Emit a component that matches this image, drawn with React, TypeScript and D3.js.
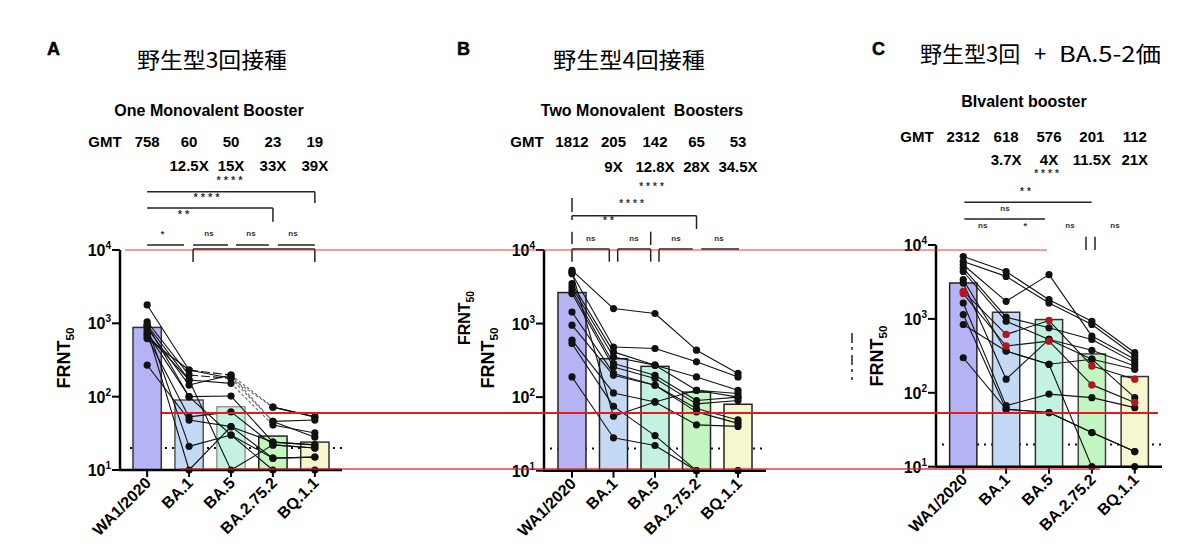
import * as d3 from "d3";

const categories = ["WA1/2020", "BA.1", "BA.5", "BA.2.75.2", "BQ.1.1"];
const barColors = ["#b4b4f4", "#c4d9f4", "#c4f2e0", "#c2f5c0", "#f7f7cf"];

// panel A: one monovalent booster
const titleA = ["野生型3回接種"];
const subtitleA = "One Monovalent Booster";
const gmtA = ["758", "60", "50", "23", "19"];
const foldA = ["", "12.5X", "15X", "33X", "39X"];
const barsA = [880, 90, 73, 29, 24];
const donorsA = [
  [1780, 231, 197, 72, 53],
  [1050, 197, 178, 46, 48],
  [950, 169, 152, 41, 32],
  [863, 144, 197, 46, 28],
  [738, 100, 102, 24, 22],
  [658, 53, 62, 22, 20],
  [270, 48, 39, 14.5, 15],
  [900, 21, 30, 10, 10],
  [800, 10, 39, 24, 22],
  [700, 169, 10, 22, 20],
  [620, 231, 178, 72, 53],
  [950, 100, 30, 14.5, 15],
];

// panel B: two monovalent boosters
const titleB = ["野生型4回接種"];
const subtitleB = "Two Monovalent  Boosters";
const gmtB = ["1812", "205", "142", "65", "53"];
const foldB = ["", "9X", "12.8X", "28X", "34.5X"];
const barsB = [2640, 333, 262, 117, 80];
const donorsB = [
  [5280, 1600, 1370, 435, 210],
  [4770, 480, 458, 302, 188],
  [3480, 412, 272, 188, 124],
  [3140, 352, 272, 124, 112],
  [2830, 286, 198, 90, 100],
  [2560, 257, 179, 81, 90],
  [1435, 210, 145, 70, 49],
  [950, 198, 145, 63, 44],
  [595, 114, 86, 42, 40],
  [535, 75, 30, 10, 10],
  [188, 28, 22, 10, 10],
  [5000, 55, 86, 124, 100],
];

// panel C: bivalent booster
const titleC = ["野生型3回", "+", "BA.5-2価"];
const subtitleC = "BIvalent booster";
const gmtC = ["2312", "618", "576", "201", "112"];
const foldC = ["", "3.7X", "4X", "11.5X", "21X"];
const barsC = [3060, 1230, 980, 336, 166];
const donorsC = [
  [6980, 4380, 1820, 930, 349],
  [5980, 3760, 1640, 840, 315],
  [5400, 1730, 3970, 585, 284],
  [4860, 1054, 757, 527, 256],
  [4380, 930, 527, 376, 231],
  [3390, 367, 243, 285, 208],
  [3055, 153, 527, 285, 86],
  [1640, 67, 96, 86, 63],
  [1145, 60, 54, 29, 16],
  [840, 367, 243, 10, 10],
  [298, 60, 54, 29, 16],
];
const redDonorsC = [
  [2360, 617, 950, 231, 153],
  [2200, 430, 500, 128, 74],
];

const yTicks = [10, 100, 1000, 10000];
const detectionLimit = 20;
const overlayLevels = [10000, 60, 10.3];

const latin = "'Liberation Sans', Arial, sans-serif";
const cjk = "'Noto Sans CJK JP', 'Noto Sans', sans-serif";

type Ann =
  | { t: "line"; x1: number; y1: number; x2: number; y2: number }
  | { t: "text"; x: number; y: number; s: string; size: number };

interface PanelCfg {
  letter: string;
  letterX: number;
  title: string[];
  titleXs: number[];
  titleY: number;
  titleLens: number[];
  subtitle: string;
  subX: number;
  subY: number;
  gmtLabelX: number;
  gmtY: number;
  foldY: number;
  gmt: string[];
  fold: string[];
  bars: number[];
  donors: number[][];
  redDonors: number[][];
  dashed: [number, number][];
  axisX: number;
  axisEnd: number;
  yTop: number;
  yBottom: number;
  padInner: number;
  padOuter: number;
  lodFrom: number;
  lodTo: number;
  barStroke: string[];
  annotations: (cx: (i: number) => number) => Ann[];
  yLabels: { x: number; y: number; size: number }[];
}

const L = (x1: number, y1: number, x2: number, y2: number): Ann => ({ t: "line", x1, y1, x2, y2 });
const T = (x: number, y: number, s: string, size = 11): Ann => ({ t: "text", x, y, s, size });

const panels: PanelCfg[] = [
  {
    letter: "A", letterX: 47, title: titleA, titleXs: [137], titleY: 68, titleLens: [150],
    subtitle: subtitleA, subX: 209, subY: 116, gmtLabelX: 105, gmtY: 147, foldY: 171,
    gmt: gmtA, fold: foldA, bars: barsA, donors: donorsA, redDonors: [],
    dashed: [[0, 1], [1, 1], [0, 2], [1, 2], [2, 2], [3, 2], [10, 2]],
    axisX: 120, axisEnd: 342, yTop: 250, yBottom: 470, padInner: 0.325, padOuter: 0.31,
    lodFrom: 130, lodTo: 342, barStroke: ["#333", "#555", "#999", "#222", "#333"],
    annotations: (cx) => [
      T(cx(2), 184, "****"),
      L(cx(0), 191.7, cx(4), 191.7), L(cx(4), 191.7, cx(4), 203),
      T(208, 201, "****"),
      L(cx(0), 208, cx(3), 208), L(cx(3), 208, cx(3), 221.7),
      T(185, 218, "**"),
      T(164, 237, "*", 9), T(209, 236, "ns", 8), T(251, 236, "ns", 8), T(293, 236, "ns", 8),
      L(cx(0), 245, cx(1) - 5, 245), L(cx(1) + 4, 245, cx(2) - 3, 245),
      L(cx(2) + 5, 245, cx(3) - 4, 245), L(cx(3) + 5, 245, cx(4), 245),
      L(cx(1) + 4, 249, cx(4), 249), L(cx(1) + 4, 249, cx(1) + 4, 262), L(cx(4), 249, cx(4), 262),
    ],
    yLabels: [{ x: 70, y: 358, size: 18 }],
  },
  {
    letter: "B", letterX: 457, title: titleB, titleXs: [553], titleY: 68, titleLens: [152],
    subtitle: subtitleB, subX: 642, subY: 116, gmtLabelX: 527, gmtY: 147, foldY: 172,
    gmt: gmtB, fold: foldB, bars: barsB, donors: donorsB, redDonors: [], dashed: [],
    axisX: 544, axisEnd: 766, yTop: 250, yBottom: 470.7, padInner: 0.325, padOuter: 0.337,
    lodFrom: 550, lodTo: 766, barStroke: ["#222", "#222", "#222", "#222", "#222"],
    annotations: (cx) => [
      T(653, 190, "****", 10),
      L(cx(0), 198, cx(0), 212),
      T(633, 207, "****", 10),
      L(cx(0), 215.7, cx(3), 215.7), L(cx(0), 215.7, cx(0), 220), L(cx(3), 215.7, cx(3), 229),
      T(610, 224, "**", 10),
      L(cx(0), 231.7, cx(0), 244), L(650.7, 231.7, 650.7, 245),
      T(590.7, 241, "ns", 8), T(634, 241, "ns", 8), T(676, 241, "ns", 8), T(719, 241, "ns", 8),
      L(cx(0), 249, 609.3, 249), L(617.7, 249, 650.7, 249), L(659, 249, 692.7, 249), L(701.3, 249, 739, 249),
      L(cx(0), 249, cx(0), 261.7), L(609.3, 249, 609.3, 261.7), L(617.7, 249, 617.7, 261.7),
      L(650.7, 249, 650.7, 261.7), L(659, 249, 659, 261.7),
    ],
    yLabels: [{ x: 470, y: 318, size: 16 }, { x: 494, y: 358, size: 18 }],
  },
  {
    letter: "C", letterX: 872, title: titleC, titleXs: [920, 1034, 1059], titleY: 62, titleLens: [0, 0, 102],
    subtitle: subtitleC, subX: 1024, subY: 107, gmtLabelX: 917, gmtY: 142, foldY: 165,
    gmt: gmtC, fold: foldC, bars: barsC, donors: donorsC, redDonors: redDonorsC, dashed: [],
    axisX: 936, axisEnd: 1162, yTop: 245, yBottom: 466.7, padInner: 0.365, padOuter: 0.318,
    lodFrom: 942, lodTo: 1162, barStroke: ["#222", "#333", "#333", "#444", "#333"],
    annotations: (cx) => [
      T(1048, 177, "****", 10),
      T(1027, 195, "**", 10),
      L(964.3, 202.3, 1091.7, 202.3),
      T(1005, 210.5, "ns", 8),
      L(964.3, 219, 1045, 219),
      T(982.7, 228, "ns", 8), T(1026.7, 228.5, "*", 9), T(1070, 228, "ns", 8), T(1115, 228, "ns", 8),
      L(1086, 236.7, 1086, 250), L(1095, 236.7, 1095, 250),
    ],
    yLabels: [{ x: 883, y: 356, size: 18 }],
  },
];

function Panel({ cfg }: { cfg: PanelCfg }) {
  const x = d3.scaleBand<string>()
    .domain(categories)
    .range([cfg.axisX, cfg.axisEnd])
    .paddingInner(cfg.padInner)
    .paddingOuter(cfg.padOuter);
  const y = d3.scaleLog().domain([10, 10000]).range([cfg.yBottom, cfg.yTop]);
  const cx = (i: number) => (x(categories[i]) ?? 0) + x.bandwidth() / 2;
  const yv = (v: number) => y(Math.max(10, v));
  const isDashed = (d: number, s: number) => cfg.dashed.some(([a, b]) => a === d && b === s);
  const allDonors = [...cfg.donors, ...cfg.redDonors];
  const heavy = { fontFamily: latin, fontWeight: "bold" as const };

  return (
    <g>
      <text x={cfg.letterX} y={55} {...heavy} fontSize={18} stroke="#000" strokeWidth={0.5}>{cfg.letter}</text>
      {cfg.title.map((part, i) => (
        <text key={"ti" + i} x={cfg.titleXs[i]} y={cfg.titleY} fontFamily={cjk} fontSize={22}
          textLength={cfg.titleLens[i] || undefined} lengthAdjust="spacingAndGlyphs">{part}</text>
      ))}
      <text x={cfg.subX} y={cfg.subY} {...heavy} fontSize={16} textAnchor="middle"
        style={{ whiteSpace: "pre" }}>{cfg.subtitle}</text>
      <text x={cfg.gmtLabelX} y={cfg.gmtY} {...heavy} fontSize={15} textAnchor="middle">GMT</text>
      {cfg.gmt.map((g, i) => (
        <text key={"g" + i} x={cx(i)} y={cfg.gmtY} {...heavy} fontSize={15} textAnchor="middle">{g}</text>
      ))}
      {cfg.fold.map((f, i) => (
        <text key={"f" + i} x={cx(i)} y={cfg.foldY} {...heavy} fontSize={15} textAnchor="middle">{f}</text>
      ))}

      {cfg.annotations(cx).map((a, i) =>
        a.t === "line" ? (
          <line key={"a" + i} x1={a.x1} y1={a.y1} x2={a.x2} y2={a.y2} stroke="#222" strokeWidth={1.5} />
        ) : (
          <text key={"a" + i} x={a.x} y={a.y} {...heavy} fontSize={a.size}
            textAnchor="middle" fill="#333" letterSpacing={a.s.startsWith("*") ? 3 : 0}>{a.s}</text>
        )
      )}

      {/* detection limit */}
      <line x1={cfg.lodFrom} x2={cfg.lodTo} y1={y(detectionLimit)} y2={y(detectionLimit)}
        stroke="#111" strokeWidth={2} strokeDasharray="2 5" />

      {cfg.bars.map((v, i) => (
        <rect key={"b" + i} x={x(categories[i])} y={y(v)} width={x.bandwidth()} height={y(10) - y(v)}
          fill={barColors[i]} stroke={cfg.barStroke[i]} strokeWidth={1.5} />
      ))}

      {allDonors.map((d, di) =>
        d.slice(0, -1).map((v, s) => (
          <line key={"l" + di + "-" + s} x1={cx(s)} y1={yv(v)} x2={cx(s + 1)} y2={yv(d[s + 1])}
            stroke={isDashed(di, s) && s === 2 ? "#666" : "#111"} strokeWidth={1.1}
            strokeDasharray={isDashed(di, s) ? (s === 2 ? "3 2" : "9 3") : undefined} />
        ))
      )}
      {cfg.donors.map((d, di) =>
        d.map((v, i) => <circle key={"p" + di + "-" + i} cx={cx(i)} cy={yv(v)} r={3.6} fill="#111" />)
      )}
      {cfg.redDonors.map((d, di) =>
        d.map((v, i) => <circle key={"r" + di + "-" + i} cx={cx(i)} cy={yv(v)} r={3.7} fill="#b3171d" />)
      )}

      {/* axes */}
      <line x1={cfg.axisX} x2={cfg.axisX} y1={y(10000)} y2={y(10) + 1} stroke="#000" strokeWidth={2.5} />
      <line x1={cfg.axisX - 1} x2={cfg.axisEnd} y1={y(10)} y2={y(10)} stroke="#000" strokeWidth={2.5} />
      {yTicks.map((t) => (
        <g key={"t" + t}>
          <line x1={cfg.axisX - 8} x2={cfg.axisX} y1={y(t)} y2={y(t)} stroke="#000" strokeWidth={2} />
          <text x={cfg.axisX - 9} y={y(t) + 6} {...heavy} fontSize={16} textAnchor="end">
            10<tspan dy={-7} fontSize={10}>{Math.round(Math.log10(t))}</tspan>
          </text>
        </g>
      ))}
      {categories.map((c, i) => (
        <g key={"x" + c}>
          <line x1={cx(i)} x2={cx(i)} y1={y(10)} y2={y(10) + 7} stroke="#000" strokeWidth={2} />
          <text transform={`translate(${cx(i) + 5},${y(10) + 14}) rotate(-45)`} {...heavy}
            fontSize={16} textAnchor="end">{c}</text>
        </g>
      ))}

      {cfg.yLabels.map((l, i) => (
        <text key={"yl" + i} transform={`translate(${l.x},${l.y}) rotate(-90)`} {...heavy}
          fontSize={l.size} textAnchor="middle">
          FRNT<tspan dy={4} fontSize={l.size * 0.65}>50</tspan>
        </text>
      ))}
    </g>
  );
}

export default function App() {
  const yA = d3.scaleLog().domain([10, 10000]).range([470, 250]);
  const overlaySpans = [[125, 1047], [160, 1158], [180, 1100]];
  const overlayWidths = [1.2, 2, 1.5];
  return (
    <svg width={1200} height={553} style={{ position: "absolute", left: 0, top: 0, background: "#fff" }}>
      <rect width={1200} height={553} fill="#fff" />
      {panels.map((p) => <Panel key={p.letter} cfg={p} />)}
      <line x1={852} x2={852} y1={333} y2={380} stroke="#222" strokeWidth={1.5} strokeDasharray="10 4 3 5" />
      {overlayLevels.map((v, i) => (
        <line key={"o" + i} x1={overlaySpans[i][0]} x2={overlaySpans[i][1]} y1={yA(v)} y2={yA(v)}
          stroke="#e31b1b" strokeWidth={overlayWidths[i]} opacity={i === 1 ? 1 : 0.85} />
      ))}
    </svg>
  );
}
